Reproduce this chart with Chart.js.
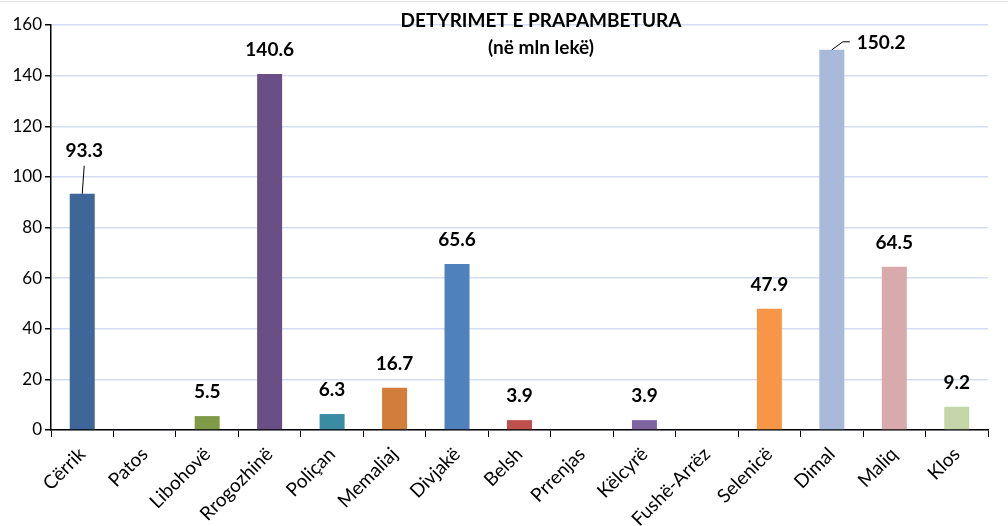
<!DOCTYPE html>
<html lang="sq">
  <head>
    <meta charset="UTF-8" />
    <title>Detyrimet e prapambetura</title>
    <style>
      body { margin: 0; background: #fff; }
    </style>
  </head>
  <body>
    <canvas id="myChart" width="1008" height="526"></canvas>
    <script src="https://cdn.jsdelivr.net/npm/chart.js"></script>
    <script>
      const bashkite = ["Cërrik", "Patos", "Libohovë", "Rrogozhinë", "Poliçan", "Memaliaj", "Divjakë", "Belsh",
        "Prrenjas", "Këlcyrë", "Fushë-Arrëz", "Selenicë", "Dimal", "Maliq", "Klos"];
      const detyrime = [93.3, 0, 5.5, 140.6, 6.3, 16.7, 65.6, 3.9, 0, 3.9, 0, 47.9, 150.2, 64.5, 9.2];
      const ngjyrat = ["#3f6699", "#4f81bd", "#7f9b47", "#6a4f86", "#3a8ca4", "#d27e3a", "#4f81bd", "#c0504d",
        "#4f81bd", "#8064a2", "#4f81bd", "#f79646", "#a9b9d9", "#d9aaab", "#c5d7a9"];
      const yTicks = [0, 20, 40, 60, 80, 100, 120, 140, 160];

      const FONT = "Lato, sans-serif";

      // vlerat mbi shtyllat, me vija lidhese per Cerrik dhe Dimal
      const etiketat = {
        id: "etiketat",
        afterDatasetsDraw(chart) {
          const ctx = chart.ctx;
          const meta = chart.getDatasetMeta(0);
          ctx.save();
          ctx.font = "bold 19px " + FONT;
          ctx.fillStyle = "#000";
          ctx.strokeStyle = "#000";
          ctx.lineWidth = 1;
          ctx.textBaseline = "middle";
          meta.data.forEach((bar, i) => {
            const v = detyrime[i];
            if (!v) return;
            const txt = v.toFixed(1);
            if (bashkite[i] === "Cërrik") {
              ctx.textAlign = "center";
              ctx.fillText(txt, bar.x + 2, bar.y - 43);
              ctx.beginPath();
              ctx.moveTo(bar.x + 2, bar.y - 28);
              ctx.lineTo(bar.x, bar.y);
              ctx.stroke();
            } else if (bashkite[i] === "Dimal") {
              ctx.textAlign = "left";
              ctx.fillText(txt, bar.x + 25, bar.y - 7);
              ctx.beginPath();
              ctx.moveTo(bar.x, bar.y);
              ctx.lineTo(bar.x + 11, bar.y - 8);
              ctx.lineTo(bar.x + 18, bar.y - 8);
              ctx.stroke();
            } else {
              ctx.textAlign = "center";
              ctx.fillText(txt, bar.x, bar.y - 24);
            }
          });
          ctx.restore();
        },
      };

      const titulli = {
        id: "titulli",
        beforeDraw(chart) {
          const ctx = chart.ctx;
          ctx.save();
          ctx.strokeStyle = "#e3e3e3";
          ctx.lineWidth = 1;
          ctx.beginPath();
          ctx.moveTo(0, 1.5);
          ctx.lineTo(chart.width, 1.5);
          ctx.stroke();
          ctx.restore();
        },
        afterDraw(chart) {
          const ctx = chart.ctx;
          ctx.save();
          ctx.font = "bold 19px " + FONT;
          ctx.fillStyle = "#000";
          ctx.textAlign = "center";
          ctx.textBaseline = "middle";
          ctx.fillText("DETYRIMET E PRAPAMBETURA", 541, 21);
          ctx.fillText("(në mln lekë)", 541, 48);
          ctx.restore();
        },
      };

      new Chart(document.getElementById("myChart"), {
        type: "bar",
        data: {
          labels: bashkite,
          datasets: [
            {
              data: detyrime,
              backgroundColor: ngjyrat,
              barPercentage: 0.8,
              categoryPercentage: 0.5,
            },
          ],
        },
        options: {
          responsive: false,
          animation: false,
          layout: { padding: { top: 25, right: 20, left: 0, bottom: 0 } },
          plugins: {
            legend: { display: false },
            tooltip: { enabled: false },
          },
          scales: {
            x: {
              offset: true,
              grid: {
                offset: true,
                drawOnChartArea: false,
                tickLength: 7,
                color: "#000",
              },
              border: { color: "#000", width: 1.5 },
              ticks: {
                color: "#000",
                font: { family: FONT, size: 19 },
                maxRotation: 45,
                minRotation: 45,
                autoSkip: false,
                padding: 6,
              },
              afterFit(scale) {
                scale.height = 96;
              },
            },
            y: {
              min: 0,
              max: 160,
              afterBuildTicks(scale) {
                scale.ticks = yTicks.map((v) => ({ value: v }));
              },
              grid: {
                color: "#d3ddef",
                lineWidth: 1.5,
                tickColor: "#000",
                tickLength: 6,
              },
              border: { color: "#000", width: 1.5 },
              ticks: {
                color: "#000",
                font: { family: FONT, size: 17 },
                padding: 3,
              },
              afterFit(scale) {
                scale.width = 51;
              },
            },
          },
        },
        plugins: [etiketat, titulli],
      });
    </script>
  </body>
</html>
